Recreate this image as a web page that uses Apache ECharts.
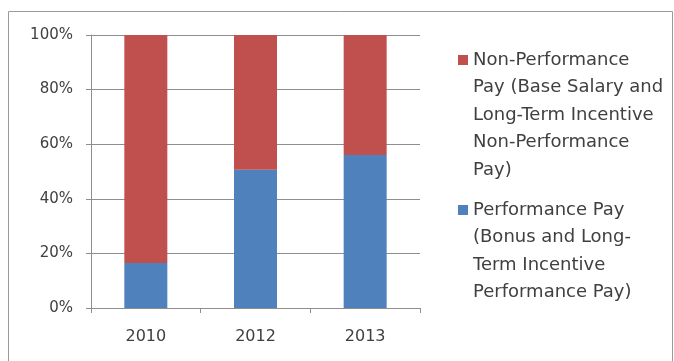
<!DOCTYPE html>
<html>
<head>
<meta charset="utf-8">
<script src="https://cdn.jsdelivr.net/npm/echarts@6/dist/echarts.min.js"></script>
<style>html,body{margin:0;padding:0;background:#fff;}#c{width:674px;height:361px;}</style>
</head>
<body>
<div id="c"></div>
<script>
var categories = ['2010', '2012', '2013'];
var performancePay = [16.5, 50.6, 56.0];
var nonPerformancePay = [83.5, 49.4, 44.0];
var yTicks = [0, 20, 40, 60, 80, 100];
var seriesNames = [
  'Non-Performance Pay (Base Salary and Long-Term Incentive Non-Performance Pay)',
  'Performance Pay (Bonus and Long-Term Incentive Performance Pay)'
];
var legendLines = {};
legendLines[seriesNames[0]] = ['Non-Performance', 'Pay (Base Salary and', 'Long-Term Incentive', 'Non-Performance', 'Pay)'];
legendLines[seriesNames[1]] = ['Performance Pay', '(Bonus and Long-', 'Term Incentive', 'Performance Pay)'];

var LH = 27.5;
var FONT = 'DejaVu Sans';
var textColor = '#404040';
var gridColor = '#8e8e8e';

// first text line is aligned with the legend icon: blank lines are put before the
// text so that the (vertically centred) text block starts its real text at the icon
function legendFor(name, firstLineY) {
  var n = legendLines[name].length;
  var top = firstLineY - (2 * n - 1) * LH / 2;
  return {
    data: [name],
    left: 458, top: top, padding: 0, orient: 'vertical',
    itemWidth: 10, itemHeight: 10, icon: 'rect',
    formatter: function (nm) {
      var ls = legendLines[nm];
      var pre = [];
      for (var i = 0; i < ls.length - 1; i++) pre.push(' ');
      return pre.concat(ls).join('\n');
    },
    textStyle: { fontFamily: FONT, fontSize: 18, color: textColor, lineHeight: LH }
  };
}

var chart = echarts.init(document.getElementById('c'), null, { renderer: 'canvas' });
chart.setOption({
  animation: false,
  backgroundColor: '#fff',
  graphic: [{
    type: 'rect', shape: { x: 8.5, y: 11.5, width: 664, height: 360 },
    style: { fill: 'none', stroke: '#9a9a9a', lineWidth: 1 }, silent: true
  }],
  grid: { left: 91, top: 35, width: 329, height: 273 },
  legend: [legendFor(seriesNames[0], 60), legendFor(seriesNames[1], 210)],
  xAxis: {
    type: 'category', data: categories,
    axisLine: { lineStyle: { color: gridColor, width: 1 } },
    axisTick: { show: true, length: 5, lineStyle: { color: gridColor } },
    axisLabel: { fontFamily: FONT, fontSize: 16, color: textColor, margin: 21 }
  },
  yAxis: {
    type: 'value', min: yTicks[0], max: yTicks[yTicks.length - 1], interval: 20,
    axisLine: { show: true, lineStyle: { color: gridColor, width: 1 } },
    axisTick: { show: true, length: 5, lineStyle: { color: gridColor } },
    axisLabel: { fontFamily: FONT, fontSize: 15, color: textColor, margin: 18, formatter: '{value}%' },
    splitLine: { show: true, lineStyle: { color: gridColor, width: 1 } }
  },
  series: [
    { name: seriesNames[1], type: 'bar', stack: 'pay', data: performancePay, barWidth: 43, itemStyle: { color: '#4F81BD' } },
    { name: seriesNames[0], type: 'bar', stack: 'pay', data: nonPerformancePay, barWidth: 43, itemStyle: { color: '#C0504D' } }
  ]
});
</script>
</body>
</html>
